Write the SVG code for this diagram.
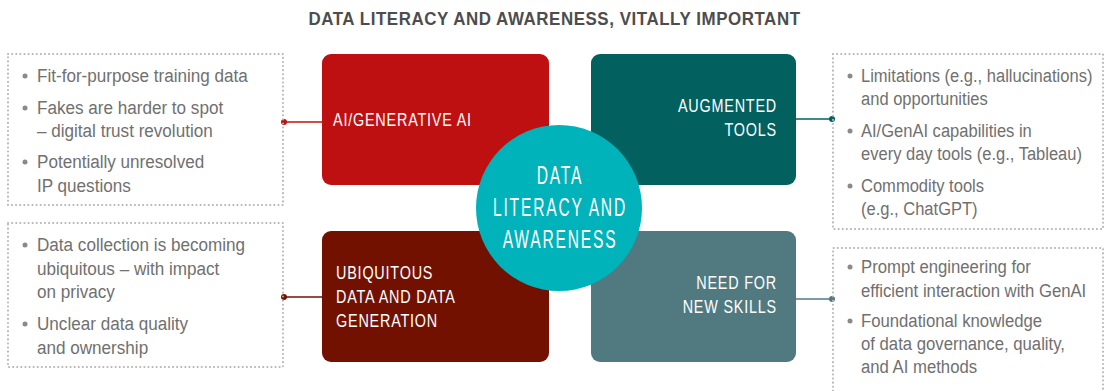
<svg xmlns="http://www.w3.org/2000/svg" width="1105" height="391" viewBox="0 0 1105 391">
  <style>
    .title { font-family: "Liberation Sans", Arial, sans-serif; font-weight: bold; font-size: 18px; fill: #4d4d4d; letter-spacing: 0.6px; text-anchor: middle; }
    .lbl { font-family: "Liberation Sans", Arial, sans-serif; font-size: 18px; fill: #ffffff; letter-spacing: 1px; }
    .end { text-anchor: end; }
    .hub { font-family: "Liberation Sans", Arial, sans-serif; font-size: 26px; fill: #ffffff; letter-spacing: 3px; text-anchor: middle; }
    .note { font-family: "Liberation Sans", Arial, sans-serif; font-size: 19px; fill: #707070; }
    .frame { fill: none; stroke: #b4b4b4; stroke-width: 2; stroke-dasharray: 0.1 4; stroke-linecap: round; }
    .dot { fill: #8a8a8a; }
  </style>

  <!-- heading, horizontally condensed -->
  <g transform="translate(554.5 0) scale(0.94 1)">
    <text class="title" x="0" y="25">DATA LITERACY AND AWARENESS, VITALLY IMPORTANT</text>
  </g>

  <!-- connectors: box edge to the dotted note frame -->
  <g id="connectors" stroke-width="1.5">
    <line x1="322" y1="122" x2="284" y2="122" stroke="#be1010"/>
    <circle cx="284" cy="122" r="3" fill="#be1010"/>
    <line x1="322" y1="297" x2="284" y2="297" stroke="#731100"/>
    <circle cx="284" cy="297" r="3" fill="#731100"/>
    <line x1="796" y1="119" x2="832" y2="119" stroke="#02605f"/>
    <circle cx="832" cy="119" r="3" fill="#02605f"/>
    <line x1="796" y1="299" x2="832" y2="299" stroke="#517a80"/>
    <circle cx="832" cy="299" r="3" fill="#517a80"/>
  </g>

  <!-- quadrant boxes -->
  <g id="node-ai">
    <rect x="322" y="54" width="227" height="131" rx="9" fill="#be1010"/>
    <g transform="translate(333 0) scale(0.8 1)">
      <text class="lbl" x="0" y="126">AI/GENERATIVE AI</text>
    </g>
  </g>
  <g id="node-tools">
    <rect x="591" y="54" width="205" height="131" rx="9" fill="#02605f"/>
    <g transform="translate(777 0) scale(0.8 1)">
      <text class="lbl end" x="0" y="112">AUGMENTED</text>
      <text class="lbl end" x="0" y="136">TOOLS</text>
    </g>
  </g>
  <g id="node-data">
    <rect x="322" y="231" width="227" height="131" rx="9" fill="#731100"/>
    <g transform="translate(336 0) scale(0.8 1)">
      <text class="lbl" x="0" y="279">UBIQUITOUS</text>
      <text class="lbl" x="0" y="303">DATA AND DATA</text>
      <text class="lbl" x="0" y="327">GENERATION</text>
    </g>
  </g>
  <g id="node-skills">
    <rect x="591" y="231" width="205" height="131" rx="9" fill="#517a80"/>
    <g transform="translate(777 0) scale(0.8 1)">
      <text class="lbl end" x="0" y="289">NEED FOR</text>
      <text class="lbl end" x="0" y="313">NEW SKILLS</text>
    </g>
  </g>

  <!-- central hub -->
  <g id="node-hub">
    <circle cx="559" cy="208" r="83" fill="#00b2b9"/>
    <g transform="translate(560 0) scale(0.6 1)">
      <text class="hub" x="0" y="184">DATA</text>
      <text class="hub" x="0" y="216">LITERACY AND</text>
      <text class="hub" x="0" y="248">AWARENESS</text>
    </g>
  </g>

  <!-- note frames with bullet lists -->
  <g id="note-ai">
    <rect class="frame" x="8" y="54" width="275" height="151"/>
    <circle class="dot" cx="25" cy="76" r="2.5"/>
    <circle class="dot" cx="25" cy="108" r="2.5"/>
    <circle class="dot" cx="25" cy="162" r="2.5"/>
    <g transform="translate(37 0) scale(0.9 1)">
      <text class="note" x="0" y="82">Fit-for-purpose training data</text>
      <text class="note" x="0" y="114">Fakes are harder to spot</text>
      <text class="note" x="0" y="137">– digital trust revolution</text>
      <text class="note" x="0" y="168">Potentially unresolved</text>
      <text class="note" x="0" y="192">IP questions</text>
    </g>
  </g>
  <g id="note-data">
    <rect class="frame" x="8" y="223" width="275" height="144"/>
    <circle class="dot" cx="25" cy="245" r="2.5"/>
    <circle class="dot" cx="25" cy="324" r="2.5"/>
    <g transform="translate(37 0) scale(0.9 1)">
      <text class="note" x="0" y="251">Data collection is becoming</text>
      <text class="note" x="0" y="275">ubiquitous – with impact</text>
      <text class="note" x="0" y="298">on privacy</text>
      <text class="note" x="0" y="330">Unclear data quality</text>
      <text class="note" x="0" y="354">and ownership</text>
    </g>
  </g>
  <g id="note-tools">
    <rect class="frame" x="833" y="54" width="270" height="175"/>
    <circle class="dot" cx="850" cy="76" r="2.5"/>
    <circle class="dot" cx="850" cy="131" r="2.5"/>
    <circle class="dot" cx="850" cy="186" r="2.5"/>
    <g transform="translate(861 0) scale(0.87 1)">
      <text class="note" x="0" y="82">Limitations (e.g., hallucinations)</text>
      <text class="note" x="0" y="105">and opportunities</text>
      <text class="note" x="0" y="137">AI/GenAI capabilities in</text>
      <text class="note" x="0" y="160">every day tools (e.g., Tableau)</text>
      <text class="note" x="0" y="192">Commodity tools</text>
      <text class="note" x="0" y="215">(e.g., ChatGPT)</text>
    </g>
  </g>
  <g id="note-skills">
    <path class="frame" d="M833 395 V248 H1103 V395"/>
    <circle class="dot" cx="850" cy="267" r="2.5"/>
    <circle class="dot" cx="850" cy="321" r="2.5"/>
    <g transform="translate(861 0) scale(0.88 1)">
      <text class="note" x="0" y="273">Prompt engineering for</text>
      <text class="note" x="0" y="297">efficient interaction with GenAI</text>
      <text class="note" x="0" y="327">Foundational knowledge</text>
      <text class="note" x="0" y="350">of data governance, quality,</text>
      <text class="note" x="0" y="373">and AI methods</text>
    </g>
  </g>
</svg>
